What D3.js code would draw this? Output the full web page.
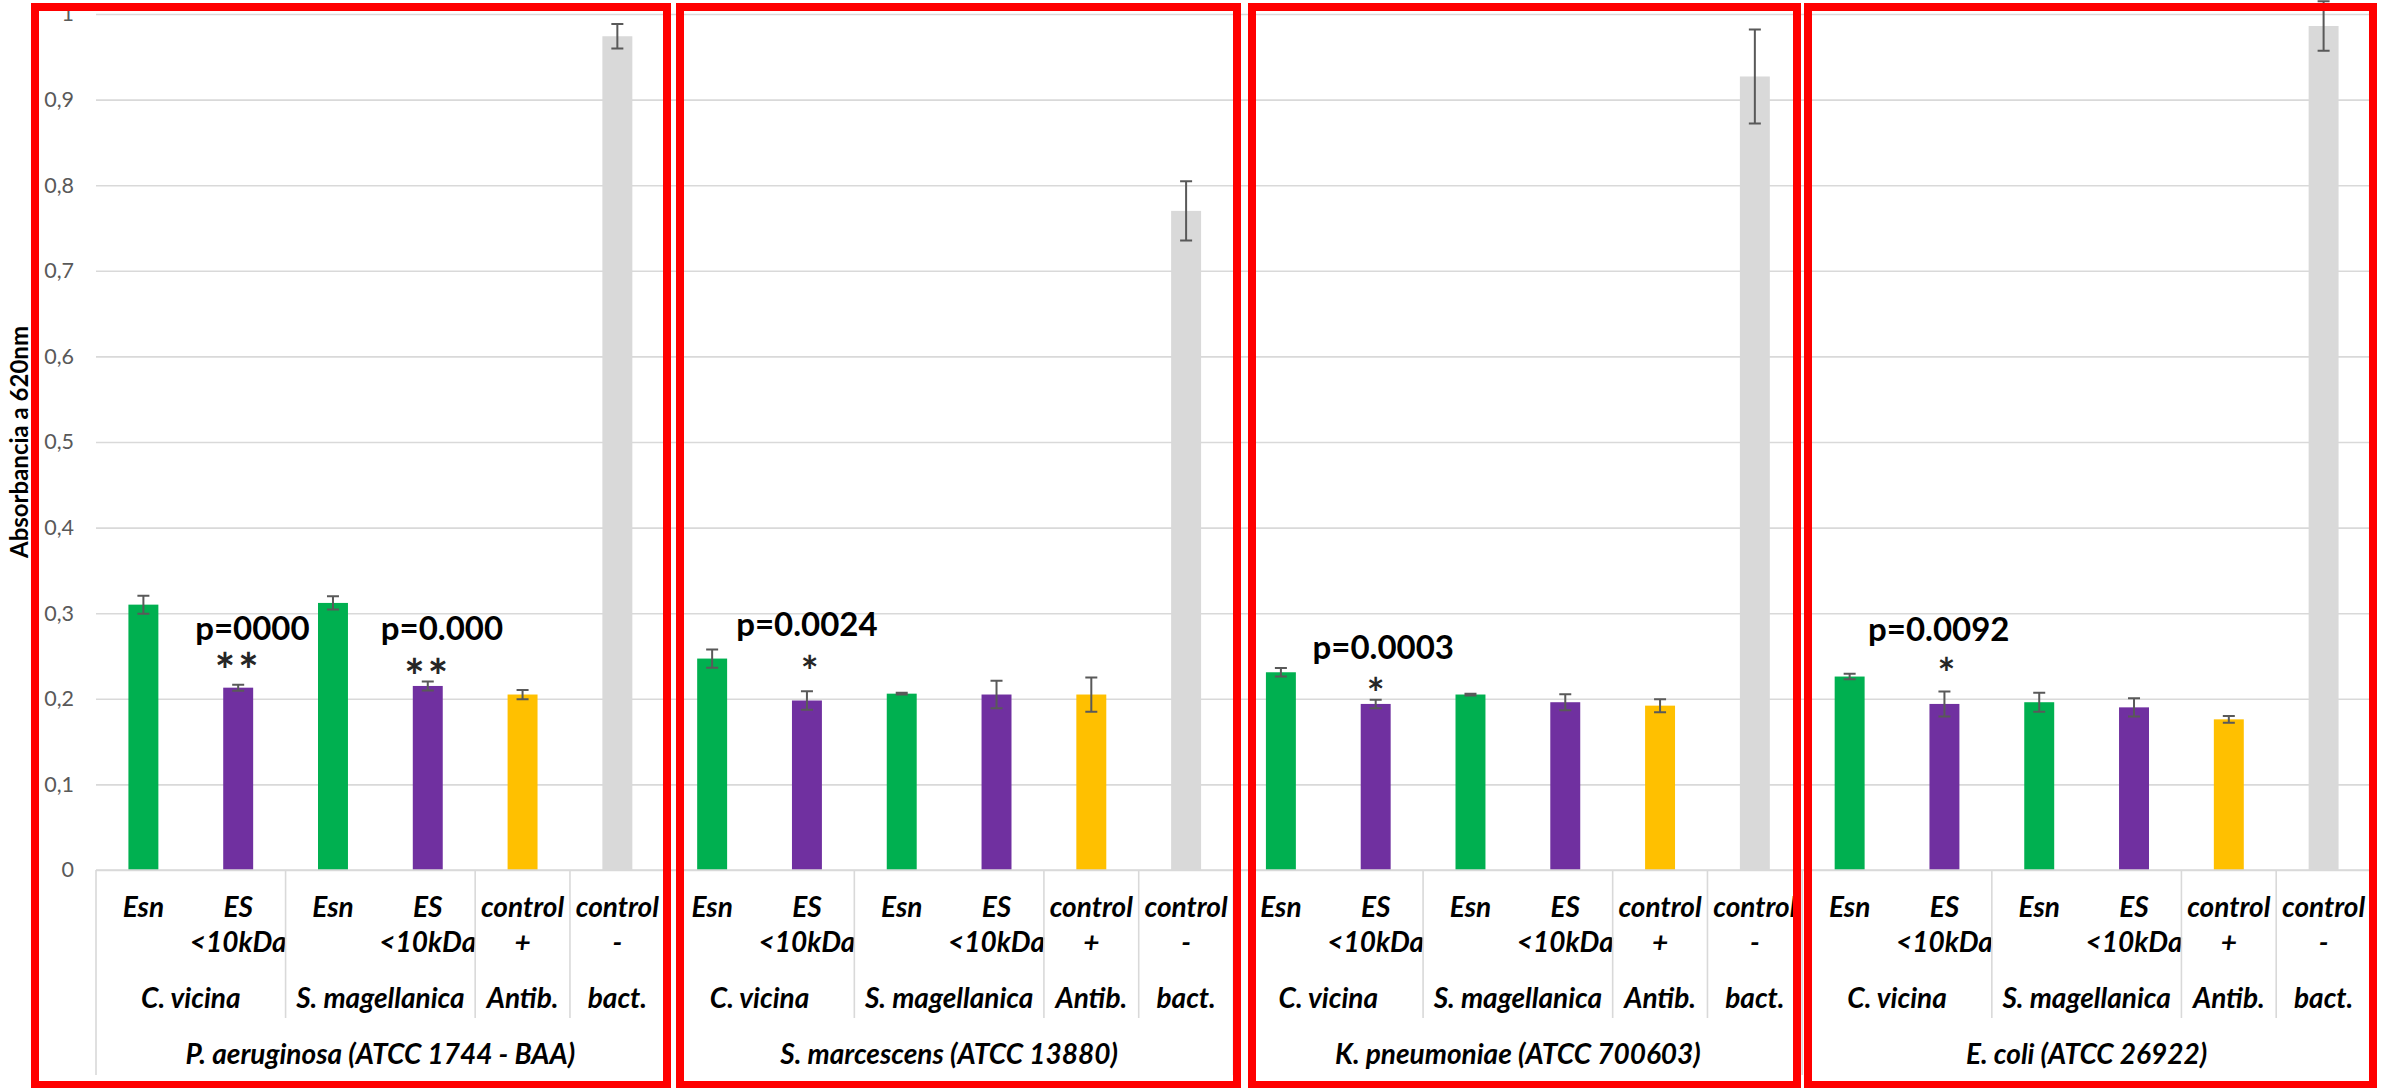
<!DOCTYPE html>
<html>
<head>
<meta charset="utf-8">
<script src="https://cdn.jsdelivr.net/npm/d3@7/dist/d3.min.js"></script>
<style>
  html, body { margin: 0; padding: 0; background: #ffffff; }
  svg { display: block; }
</style>
</head>
<body>
<svg id="chart" width="2389" height="1088"></svg>
<script>
// ---------- DATA ----------
const bacteria = [
  "P. aeruginosa (ATCC 1744 - BAA)",
  "S. marcescens (ATCC 13880)",
  "K. pneumoniae (ATCC 700603)",
  "E. coli (ATCC 26922)"
];
// level-1 categories (two text lines each)
const conditions = [
  ["Esn"], ["ES", "<10kDa"], ["Esn"], ["ES", "<10kDa"], ["control", "+"], ["control", "-"]
];
// level-2 groups: label and number of conditions spanned
const sources = ["C. vicina", "S. magellanica", "Antib.", "bact."];
const sourceSpans = [2, 2, 1, 1];

// absorbance means, one array per bacterium (6 conditions)
const valuesPA = [0.310, 0.213, 0.312, 0.215, 0.205, 0.974];
const valuesSM = [0.247, 0.198, 0.206, 0.205, 0.205, 0.770];
const valuesKP = [0.231, 0.194, 0.205, 0.196, 0.192, 0.927];
const valuesEC = [0.226, 0.194, 0.196, 0.190, 0.176, 0.986];
// error (± SD)
const errorsPA = [0.0105, 0.0035, 0.0078, 0.0052, 0.0054, 0.0144];
const errorsSM = [0.0106, 0.0108, 0.0010, 0.0160, 0.0200, 0.0346];
const errorsKP = [0.0050, 0.0050, 0.0010, 0.0094, 0.0076, 0.0550];
const errorsEC = [0.0032, 0.0146, 0.0110, 0.0106, 0.0040, 0.0290];
const allValues = [valuesPA, valuesSM, valuesKP, valuesEC];
const allErrors = [errorsPA, errorsSM, errorsKP, errorsEC];

// y-axis ticks
const tickValues = [0, 0.1, 0.2, 0.3, 0.4, 0.5, 0.6, 0.7, 0.8, 0.9, 1];
const tickLabels = ["0", "0,1", "0,2", "0,3", "0,4", "0,5", "0,6", "0,7", "0,8", "0,9", "1"];
const yTitle = "Absorbancia a 620nm";

// significance annotations: bacterium, condition, text, stars, anchor values
const annotations = [
  { b: 0, c: 1, p: "p=0000",  stars: "**", pAt: 0.2687, starAt: 0.2436, pShift: 0.15, sShift: 0.0 },
  { b: 0, c: 3, p: "p=0.000", stars: "**", pAt: 0.2687, starAt: 0.2366, pShift: 0.15, sShift: 0.0 },
  { b: 1, c: 1, p: "p=0.0024", stars: "*", pAt: 0.2734, starAt: 0.2412, pShift: 0.0, sShift: 0.03 },
  { b: 2, c: 1, p: "p=0.0003", stars: "*", pAt: 0.2465, starAt: 0.2150, pShift: 0.08, sShift: 0.0 },
  { b: 3, c: 1, p: "p=0.0092", stars: "*", pAt: 0.2675, starAt: 0.2383, pShift: -0.06, sShift: 0.02 }
];

// ---------- STYLE ----------
const colors = ["#00b050", "#7030a0", "#00b050", "#7030a0", "#ffc000", "#d9d9d9"];
const gridColor = "#d9d9d9";
const plot = { left: 96, right: 2371, top: 14, bottom: 870 };
const fontFamily = "Lato, 'Open Sans', 'Liberation Sans', sans-serif";
// hand-drawn red highlight frames (page coordinates)
const frames = [
  { x1: 35,   x2: 667,  y1: 7, y2: 1085 },
  { x1: 680,  x2: 1237, y1: 7, y2: 1085 },
  { x1: 1252, x2: 1797, y1: 7, y2: 1085 },
  { x1: 1808, x2: 2373, y1: 7, y2: 1085 }
];

// ---------- SCALES ----------
const svg = d3.select("#chart");
const y = d3.scaleLinear().domain([0, 1]).range([plot.bottom, plot.top]);
const x0 = d3.scaleBand().domain(d3.range(bacteria.length)).range([plot.left, plot.right]).padding(0);
const x1 = d3.scaleBand().domain(d3.range(conditions.length)).range([0, x0.bandwidth()]).padding(0);
const barW = x1.bandwidth() * 0.316;
const cx = (b, c) => x0(b) + x1(c) + x1.bandwidth() / 2;

// ---------- GRID + Y AXIS ----------
const yAxis = d3.axisLeft(y)
  .tickValues(tickValues)
  .tickSize(-(plot.right - plot.left))
  .tickPadding(22)
  .tickFormat((d, i) => tickLabels[i]);
const gy = svg.append("g").attr("transform", `translate(${plot.left},0)`).call(yAxis);
gy.select(".domain").remove();
gy.selectAll(".tick line").attr("stroke", gridColor).attr("stroke-width", 1.6);
gy.selectAll(".tick text")
  .attr("fill", "#595959")
  .style("font-family", fontFamily)
  .style("font-size", "21.5px");

// y title
svg.append("text")
  .attr("transform", `translate(28,${(plot.top + plot.bottom) / 2}) rotate(-90)`)
  .attr("text-anchor", "middle")
  .style("font-family", fontFamily)
  .style("font-weight", "bold")
  .style("font-size", "24px")
  .attr("fill", "#000")
  .text(yTitle);

// ---------- BARS ----------
const flat = [];
allValues.forEach((vals, b) => vals.forEach((v, c) => flat.push({ b, c, v, e: allErrors[b][c] })));

svg.append("g").selectAll("rect").data(flat).join("rect")
  .attr("x", d => cx(d.b, d.c) - barW / 2)
  .attr("width", barW)
  .attr("y", d => y(d.v))
  .attr("height", d => y(0) - y(d.v))
  .attr("fill", d => colors[d.c]);

// error bars
const eg = svg.append("g").attr("stroke", "#595959").attr("stroke-width", 2).attr("fill", "none");
const capW = 12;
eg.selectAll("path").data(flat).join("path")
  .attr("d", d => {
    const x = cx(d.b, d.c), yt = y(d.v + d.e), yb = y(d.v - d.e);
    return `M${x},${yt}V${yb}M${x - capW / 2},${yt}H${x + capW / 2}M${x - capW / 2},${yb}H${x + capW / 2}`;
  });

// ---------- CATEGORY AXIS ----------
const axisG = svg.append("g").style("font-family", fontFamily).style("font-weight", "bold").style("font-style", "italic");
axisG.append("line").attr("x1", plot.left).attr("x2", plot.right)
  .attr("y1", y(0)).attr("y2", y(0)).attr("stroke", gridColor).attr("stroke-width", 1.6);

const row1 = 917, rowGap = 35, row2 = 1008, row3 = 1064;
const sepShort = 1018, sepLong = 1075;
const labelSize = "28px";

bacteria.forEach((name, b) => {
  conditions.forEach((lines, c) => {
    const t = axisG.append("text").attr("text-anchor", "middle")
      .style("font-size", labelSize).attr("fill", "#000");
    lines.forEach((ln, k) => {
      t.append("tspan").attr("x", cx(b, c)).attr("y", row1 + k * rowGap).text(ln);
    });
  });
  let start = 0;
  sources.forEach((s, g) => {
    const span = sourceSpans[g];
    const xl = x0(b) + x1(start);
    const xr = x0(b) + (start + span < conditions.length ? x1(start + span) : x0.bandwidth());
    axisG.append("text").attr("text-anchor", "middle")
      .attr("x", (xl + xr) / 2).attr("y", row2)
      .style("font-size", labelSize).attr("fill", "#000").text(s);
    if (start > 0) {
      axisG.append("line").attr("x1", xl).attr("x2", xl).attr("y1", y(0)).attr("y2", sepShort)
        .attr("stroke", gridColor).attr("stroke-width", 1.6);
    }
    start += span;
  });
  axisG.append("text").attr("text-anchor", "middle")
    .attr("x", x0(b) + x0.bandwidth() / 2).attr("y", row3)
    .style("font-size", labelSize).attr("fill", "#000").text(name);
  axisG.append("line").attr("x1", x0(b)).attr("x2", x0(b)).attr("y1", y(0)).attr("y2", sepLong)
    .attr("stroke", gridColor).attr("stroke-width", 1.6);
});
axisG.append("line").attr("x1", plot.right).attr("x2", plot.right).attr("y1", y(0)).attr("y2", sepLong)
  .attr("stroke", gridColor).attr("stroke-width", 1.6);

// ---------- ANNOTATIONS ----------
const ag = svg.append("g").style("font-family", fontFamily).style("font-weight", "bold");
annotations.forEach(a => {
  const xc = cx(a.b, a.c);
  ag.append("text").attr("text-anchor", "middle")
    .attr("x", xc + a.pShift * x1.bandwidth()).attr("y", y(a.pAt))
    .style("font-size", "33px").attr("fill", "#000").text(a.p);
  const big = a.stars.length > 1;
  ag.append("text").attr("text-anchor", "middle")
    .attr("x", xc + a.sShift * x1.bandwidth()).attr("y", y(a.starAt) + (big ? 27 : 23))
    .style("font-size", big ? "48px" : "42px").style("letter-spacing", big ? "3px" : "0px")
    .attr("fill", "#262626").text(a.stars);
});

// ---------- RED FRAMES ----------
svg.append("g").selectAll("rect").data(frames).join("rect")
  .attr("x", d => d.x1).attr("y", d => d.y1)
  .attr("width", d => d.x2 - d.x1).attr("height", d => d.y2 - d.y1)
  .attr("fill", "none").attr("stroke", "#ff0000").attr("stroke-width", 8);
</script>
</body>
</html>
